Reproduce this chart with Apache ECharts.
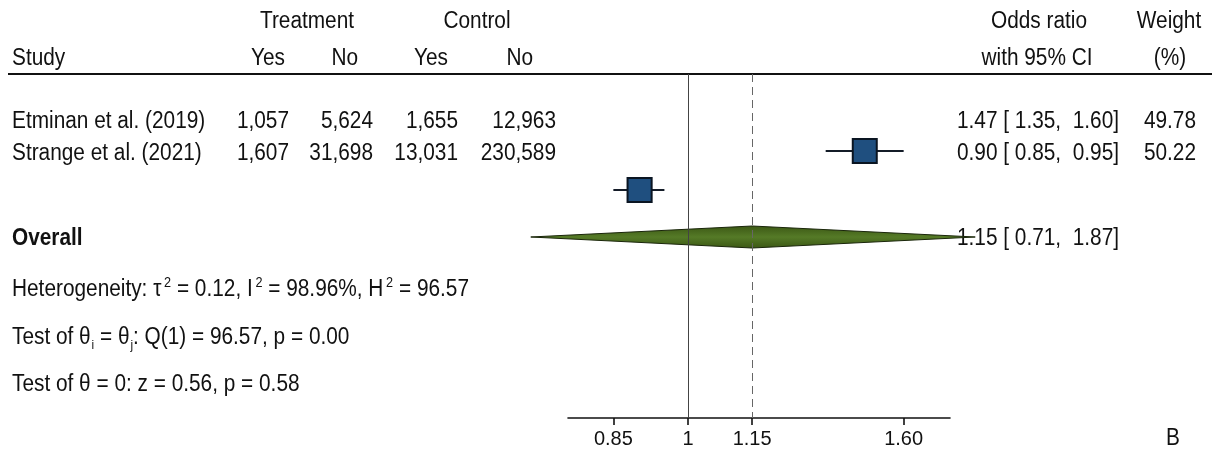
<!DOCTYPE html>
<html>
<head>
<meta charset="utf-8">
<script src="https://cdn.jsdelivr.net/npm/echarts@6/dist/echarts.min.js"></script>
<style>
  html, body { margin: 0; padding: 0; background: #ffffff; }
  #chart { width: 1215px; height: 452px; }
</style>
</head>
<body>
<div id="chart"></div>
<script>
// ---- Study data ----
const studies      = ['Etminan et al. (2019)', 'Strange et al. (2021)'];
const treatYes     = [1057, 1607];
const treatNo      = [5624, 31698];
const controlYes   = [1655, 13031];
const controlNo    = [12963, 230589];
const oddsRatio    = [1.47, 0.90];
const ciLow        = [1.35, 0.85];
const ciHigh       = [1.60, 0.95];
const weights      = [49.78, 50.22];

// ---- Pooled estimate ----
const overallOR    = 1.15;
const overallLow   = 0.71;
const overallHigh  = 1.87;

// ---- Axis ticks (odds ratio, log scale) ----
const tickValues   = [0.85, 1, 1.15, 1.60];
const tickLabels   = ['0.85', '1', '1.15', '1.60'];

// ---- Summary statistics ----
const tau2 = '0.12', i2 = '98.96%', h2 = '96.57';
const qDf = 1, qStat = '96.57', qP = '0.00';
const zStat = '0.56', zP = '0.58';

// ---- Layout (page pixels) ----
const FONT = "'Liberation Sans', Arial, Helvetica, sans-serif";
const FS = 23;          // text size
const SX = 0.905;       // slightly condensed lettering
const DY = 2;           // baseline nudge for text rows
const textRowY   = [120, 152];
const markerRowY = [151, 190];
const overallRowY = 237;
const statRowY   = [288, 336, 383];
const colRight   = [289, 373, 458, 556];
const ciTextX    = 957;
const weightRight = 1196;

const fmt = n => n.toLocaleString('en-US');
const f2 = n => n.toFixed(2);

const chart = echarts.init(document.getElementById('chart'), null, { renderer: 'canvas' });

function txt(x, y, text, align, extra) {
  return {
    type: 'text', x: x, y: y + DY, scaleX: SX, silent: true,
    style: Object.assign({
      text: text, fill: '#111',
      fontFamily: FONT, fontSize: FS,
      align: align || 'left', verticalAlign: 'middle'
    }, extra || {})
  };
}

const graphics = [];
// header
graphics.push(txt(307, 20, 'Treatment', 'center'));
graphics.push(txt(477, 20, 'Control', 'center'));
graphics.push(txt(1039, 20, 'Odds ratio', 'center'));
graphics.push(txt(1169, 20, 'Weight', 'center'));
graphics.push(txt(12, 57, 'Study', 'left'));
graphics.push(txt(285, 57, 'Yes', 'right'));
graphics.push(txt(358, 57, 'No', 'right'));
graphics.push(txt(448, 57, 'Yes', 'right'));
graphics.push(txt(533, 57, 'No', 'right'));
graphics.push(txt(1037, 57, 'with 95% CI', 'center'));
graphics.push(txt(1170, 57, '(%)', 'center'));
graphics.push({
  type: 'line', silent: true,
  shape: { x1: 8, y1: 74, x2: 1212, y2: 74 },
  style: { stroke: '#111', lineWidth: 2 }
});

// study rows
studies.forEach((s, i) => {
  const y = textRowY[i];
  graphics.push(txt(12, y, s, 'left'));
  [treatYes, treatNo, controlYes, controlNo].forEach((col, c) => {
    graphics.push(txt(colRight[c], y, fmt(col[i]), 'right'));
  });
  graphics.push(txt(ciTextX, y, f2(oddsRatio[i]) + ' [ ' + f2(ciLow[i]) + ',  ' + f2(ciHigh[i]) + ']', 'left'));
  graphics.push(txt(weightRight, y, f2(weights[i]), 'right'));
});

// overall row
graphics.push(txt(12, overallRowY, 'Overall', 'left', { fontWeight: 'bold' }));
graphics.push(txt(ciTextX, overallRowY, f2(overallOR) + ' [ ' + f2(overallLow) + ',  ' + f2(overallHigh) + ']', 'left'));

// statistics lines with super/subscripts
const rich = {
  sup: { fontSize: 14, fontFamily: FONT, verticalAlign: 'top', fill: '#111', padding: [0, 0, 0, 3] },
  sub: { fontSize: 13, fontFamily: FONT, verticalAlign: 'bottom', fill: '#111', padding: [0, 0, 0, 1] },
  b: { fontSize: FS, fontFamily: FONT, fill: '#111' }
};
graphics.push(txt(12, statRowY[0],
  '{b|Heterogeneity: \u03C4}{sup|2}{b| = ' + tau2 + ', I}{sup|2}{b| = ' + i2 + ', H}{sup|2}{b| = ' + h2 + '}',
  'left', { rich: rich, lineHeight: 28 }));
graphics.push(txt(12, statRowY[1],
  '{b|Test of \u03B8}{sub|i}{b| = \u03B8}{sub|j}{b|: Q(' + qDf + ') = ' + qStat + ', p = ' + qP + '}',
  'left', { rich: rich, lineHeight: 28 }));
graphics.push(txt(12, statRowY[2],
  'Test of \u03B8 = 0: z = ' + zStat + ', p = ' + zP, 'left'));

// panel letter
graphics.push(txt(1173, 437, 'B', 'center'));

const ln = Math.log;
const tickLn = tickValues.map(v => ln(v));

function labelFor(v) {
  let best = 0, d = Infinity;
  tickLn.forEach((t, k) => { const dd = Math.abs(t - v); if (dd < d) { d = dd; best = k; } });
  return tickLabels[best];
}

const option = {
  animation: false,
  backgroundColor: '#ffffff',
  grid: { left: 568, right: 265, top: 74, bottom: 34, containLabel: false, outerBoundsMode: 'none' },
  xAxis: {
    type: 'value',
    min: ln(0.77), max: ln(1.77),
    splitLine: { show: false },
    axisLine: { show: true, onZero: false, lineStyle: { color: '#111', width: 1.6 } },
    axisTick: { show: true, customValues: tickLn, length: 7, lineStyle: { color: '#111', width: 1.6 } },
    axisLabel: {
      customValues: tickLn, formatter: v => labelFor(v),
      color: '#111', fontSize: 20, fontFamily: FONT, margin: 11
    }
  },
  yAxis: {
    type: 'value', inverse: true, min: 74, max: 418, show: false
  },
  graphic: graphics,
  series: [
    {
      // reference lines: null effect and pooled estimate
      type: 'line', data: [], silent: true,
      markLine: {
        silent: true, symbol: ['none', 'none'], label: { show: false },
        data: [
          { xAxis: ln(1), lineStyle: { color: '#444', width: 1, type: 'solid' } },
          { xAxis: ln(overallOR), lineStyle: { color: '#666', width: 1, type: [8, 5] } }
        ]
      },
      z: 1
    },
    {
      // pooled estimate diamond
      type: 'custom', z: 3, clip: false, silent: true,
      data: [[ln(overallLow), ln(overallHigh), ln(overallOR), overallRowY]],
      encode: { x: [0, 1, 2], y: 3 },
      renderItem: (params, api) => {
        const y = api.value(3);
        const l = api.coord([api.value(0), y]);
        const h = api.coord([api.value(1), y]);
        const c = api.coord([api.value(2), y]);
        const half = 11;
        return {
          type: 'polygon',
          shape: { points: [[l[0], l[1]], [c[0], c[1] - half], [h[0], h[1]], [c[0], c[1] + half]] },
          style: {
            fill: new echarts.graphic.LinearGradient(0, 0, 0, 1, [
              { offset: 0, color: '#3b5714' },
              { offset: 0.5, color: '#557a27' },
              { offset: 1, color: '#3b5714' }
            ]),
            stroke: '#1a260a', lineWidth: 1
          }
        };
      }
    },
    {
      // study estimates with confidence intervals
      type: 'custom', z: 4, clip: false, silent: true,
      data: studies.map((s, i) => [ln(ciLow[i]), ln(ciHigh[i]), ln(oddsRatio[i]), markerRowY[i], weights[i]]),
      encode: { x: [0, 1, 2], y: 3 },
      renderItem: (params, api) => {
        const y = api.value(3);
        const l = api.coord([api.value(0), y]);
        const h = api.coord([api.value(1), y]);
        const c = api.coord([api.value(2), y]);
        const side = 3.4 * Math.sqrt(api.value(4));
        return {
          type: 'group',
          children: [
            { type: 'line', shape: { x1: l[0], y1: l[1], x2: h[0], y2: h[1] },
              style: { stroke: '#141c28', lineWidth: 2 } },
            { type: 'rect', shape: { x: c[0] - side / 2, y: c[1] - side / 2, width: side, height: side },
              style: { fill: '#1f4f7f', stroke: '#0a1522', lineWidth: 2 } }
          ]
        };
      }
    }
  ]
};

chart.setOption(option);
</script>
</body>
</html>
